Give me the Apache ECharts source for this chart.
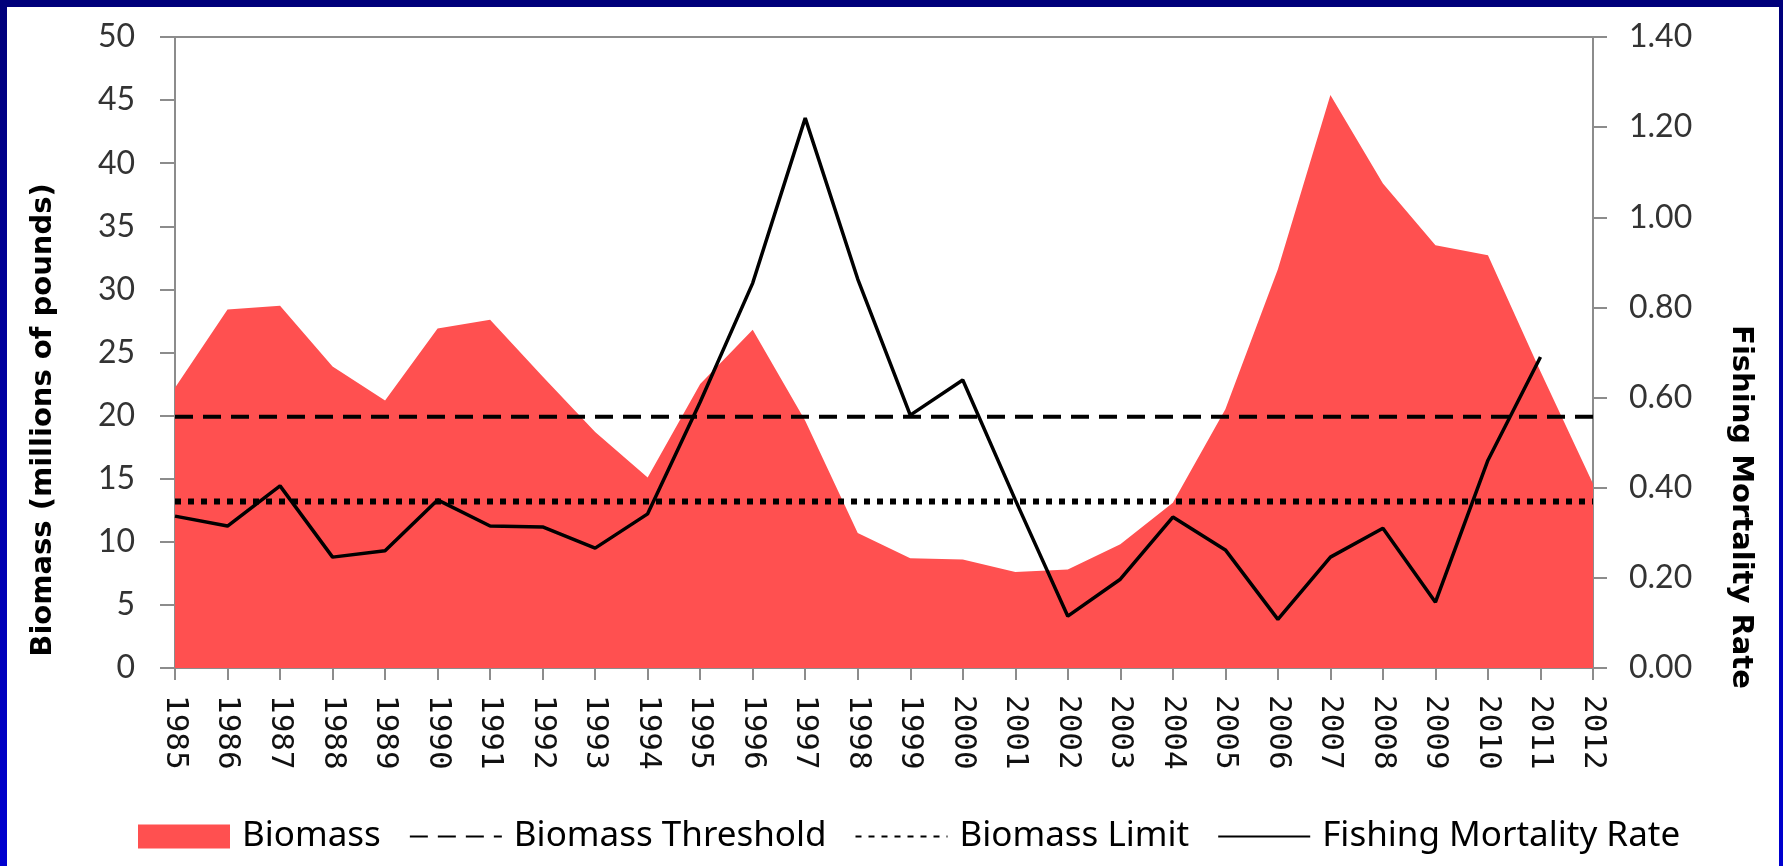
<!DOCTYPE html>
<html>
<head>
<meta charset="utf-8">
<script src="https://cdn.jsdelivr.net/npm/echarts@6/dist/echarts.min.js"></script>
<style>
  html, body { margin: 0; padding: 0; width: 1783px; height: 866px; overflow: hidden; }
  body { background: linear-gradient(180deg, #00007a 0%, #0000d0 100%); position: relative; }
  #paper { position: absolute; left: 7px; top: 7px; width: 1772px; height: 859px; background: #fff; }
  #main { position: absolute; left: 0; top: 0; width: 1783px; height: 866px; }
</style>
</head>
<body>
<div id="paper"></div>
<div id="main"></div>
<script>
  // data
  var years = ['1985','1986','1987','1988','1989','1990','1991','1992','1993','1994',
               '1995','1996','1997','1998','1999','2000','2001','2002','2003','2004',
               '2005','2006','2007','2008','2009','2010','2011','2012'];
  var biomass = [22.2, 28.4, 28.7, 23.9, 21.2, 26.9, 27.6, 23.1, 18.7, 15.1,
                 22.5, 26.8, 19.6, 10.7, 8.7, 8.6, 7.6, 7.8, 9.8, 13.1,
                 20.5, 31.6, 45.4, 38.4, 33.5, 32.7, 23.5, 14.6];
  var fishingMortality = [0.337, 0.315, 0.404, 0.246, 0.26, 0.373, 0.315, 0.313, 0.266, 0.342,
                          0.59, 0.854, 1.22, 0.863, 0.561, 0.639, 0.373, 0.115, 0.197, 0.335,
                          0.262, 0.108, 0.246, 0.31, 0.146, 0.461, 0.69, null];
  var thresholdLevel = 19.9;
  var limitLevel = 13.2;

  var tickFont = 'Lato, "Open Sans", sans-serif';
  var titleFont = '"DejaVu Sans", Verdana, sans-serif';

  var myChart = echarts.init(document.getElementById('main'), null, {renderer: 'canvas'});

  // legend line items: keep the line, hide the marker dot
  var noDot = {opacity: 0};

  var option = {
    backgroundColor: 'transparent',
    animation: false,
    grid: {
      left: 175, right: 190, top: 37, bottom: 198,
      show: true, borderColor: '#8c8c8c', borderWidth: 2, backgroundColor: 'transparent'
    },
    legend: {
      top: 814,
      left: 133,
      itemWidth: 92,
      itemHeight: 24,
      itemGap: 28,
      textStyle: {fontFamily: '"Noto Sans", sans-serif', fontSize: 35, color: '#000', padding: [0, 0, 0, 7]},
      data: [
        {name: 'Biomass', icon: 'rect'},
        {name: 'Biomass Threshold', itemStyle: noDot},
        {name: 'Biomass Limit', itemStyle: noDot},
        {name: 'Fishing Mortality Rate', itemStyle: noDot}
      ]
    },
    xAxis: {
      type: 'category',
      data: years,
      boundaryGap: false,
      axisLine: {lineStyle: {color: '#8c8c8c', width: 2}},
      axisTick: {length: 12, lineStyle: {color: '#8c8c8c', width: 2}},
      axisLabel: {
        rotate: -90, margin: 27, interval: 0,
        fontFamily: '"DejaVu Sans Mono", monospace', fontSize: 31, color: '#111'
      },
      splitLine: {show: false}
    },
    yAxis: [
      {
        type: 'value', min: 0, max: 50, interval: 5, position: 'left',
        axisLine: {show: true, lineStyle: {color: '#8c8c8c', width: 2}},
        axisTick: {show: true, length: 15, lineStyle: {color: '#8c8c8c', width: 2}},
        axisLabel: {margin: 40, fontFamily: tickFont, fontSize: 32, color: '#333'},
        splitLine: {show: false}
      },
      {
        type: 'value', min: 0, max: 1.4, interval: 0.2, position: 'right',
        axisLine: {show: true, lineStyle: {color: '#8c8c8c', width: 2}},
        axisTick: {show: true, length: 14, lineStyle: {color: '#8c8c8c', width: 2}},
        axisLabel: {
          margin: 36, fontFamily: tickFont, fontSize: 32, color: '#333',
          formatter: function (v) { return v.toFixed(2); }
        },
        splitLine: {show: false}
      }
    ],
    graphic: [
      {
        type: 'text', x: 43, y: 420, rotation: Math.PI / 2,
        style: {
          text: 'Biomass (millions of pounds)', fill: '#000',
          font: 'bold 29px ' + titleFont, align: 'center', verticalAlign: 'middle'
        }
      },
      {
        type: 'text', x: 1741, y: 507, rotation: -Math.PI / 2,
        style: {
          text: 'Fishing Mortality Rate', fill: '#000',
          font: 'bold 29px ' + titleFont, align: 'center', verticalAlign: 'middle'
        }
      }
    ],
    series: [
      {
        name: 'Biomass',
        type: 'line',
        data: biomass,
        yAxisIndex: 0,
        symbol: 'none',
        color: '#ff5050',
        lineStyle: {width: 0, color: '#ff5050'},
        areaStyle: {color: '#ff5050', opacity: 1},
        z: 1
      },
      {
        name: 'Biomass Threshold',
        type: 'line',
        data: [[years[0], thresholdLevel], [years[years.length - 1], thresholdLevel]],
        yAxisIndex: 0,
        symbol: 'none',
        color: '#000',
        lineStyle: {color: '#000', width: 4, type: [18, 10]},
        z: 3
      },
      {
        name: 'Biomass Limit',
        type: 'line',
        data: [[years[0], limitLevel], [years[years.length - 1], limitLevel]],
        yAxisIndex: 0,
        symbol: 'none',
        color: '#000',
        lineStyle: {color: '#000', width: 6, type: [6, 7]},
        z: 3
      },
      {
        name: 'Fishing Mortality Rate',
        type: 'line',
        data: fishingMortality,
        yAxisIndex: 1,
        symbol: 'none',
        color: '#000',
        lineStyle: {color: '#000', width: 3.5},
        z: 4
      }
    ]
  };

  myChart.setOption(option);
</script>
</body>
</html>
